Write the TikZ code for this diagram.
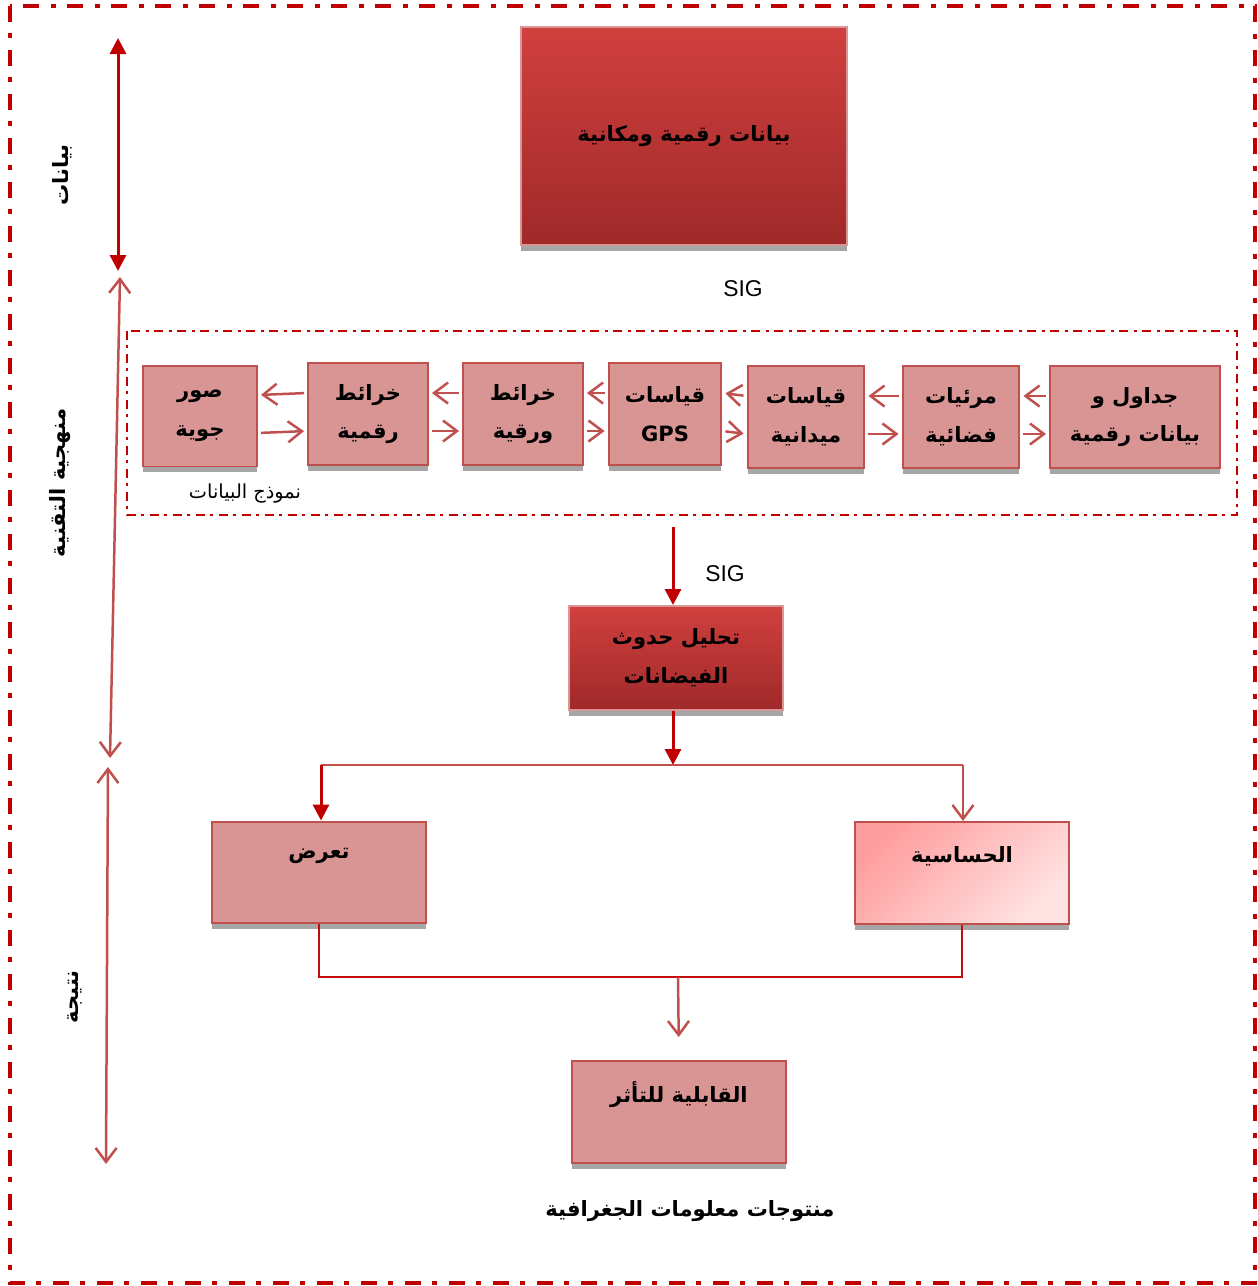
\documentclass[tikz,border=0pt]{standalone}
\usepackage{fontspec}
\setmainfont{Liberation Sans}
\newfontfamily\arabicfont[Script=Arabic]{DejaVu Sans}
\TeXXeTstate=1
\usetikzlibrary{arrows.meta,%
		shadows,%
		positioning}
\definecolor{rossoscuro}{HTML}{C00000}
\definecolor{rossochiaro}{HTML}{C0504D}
\definecolor{riempi}{HTML}{D99594}
\definecolor{ombra}{HTML}{A6A6A6}
\definecolor{altoA}{HTML}{D0403E}
\definecolor{bassoA}{HTML}{A0292A}
\definecolor{sensA}{HTML}{FF9E9E}
\definecolor{sensB}{HTML}{FFE2E2}
\newcommand{\artxt}[1]{\beginR #1\endR}

\begin{document}
\begin{tikzpicture}[x=0.02cm,y=-0.02cm,
  ombretta/.style={drop shadow={shadow xshift=0cm,shadow yshift=-0.12cm,fill=ombra,opacity=1}},
  scatola/.style={draw=rossochiaro,line width=0.04cm,fill=riempi,inner sep=0pt,align=center,ombretta,
    font=\arabicfont\bfseries\fontsize{12}{22}\selectfont},
  scatolarossa/.style={scatola,draw=rossochiaro!60,top color=altoA,bottom color=bassoA},
  testoar/.style={font=\arabicfont\bfseries\fontsize{12}{22}\selectfont,inner sep=0pt},
  etichetta/.style={font=\arabicfont\bfseries\fontsize{12}{14}\selectfont,rotate=90,inner sep=0pt},
  bordo/.style={draw=rossoscuro,line width=0.08cm,dash pattern=on 0.32cm off 0.22cm on 0.1cm off 0.24cm},
  cornice/.style={draw=rossoscuro,line width=0.05cm,dash pattern=on 0.18cm off 0.1cm on 0.06cm off 0.12cm},
  piena/.style={draw=rossoscuro,line width=0.06cm,-{Triangle[length=0.32cm,width=0.32cm]}},
  aperta/.style={draw=rossochiaro,line width=0.05cm,-{Straight Barb[length=0.28cm,width=0.42cm]}},
  linea/.style={draw=rossochiaro,line width=0.04cm}]

  \useasboundingbox (0,0) rectangle (1258,1286);%i margini
  \draw[bordo] (10,6) rectangle (1255,1283);%cornice esterna

  \coordinate (d1) at (118,38);%freccia dati, alto
  \coordinate (d2) at (118,271);%freccia dati, basso
  \coordinate (m1) at (120,277);%freccia metodo, alto
  \coordinate (m2) at (110,758);%freccia metodo, basso
  \coordinate (r1) at (108,767);%freccia risultato, alto
  \coordinate (r2) at (106,1164);%freccia risultato, basso
  \draw[piena,{Triangle[length=0.32cm,width=0.32cm]}-{Triangle[length=0.32cm,width=0.32cm]}] (d1) -- (d2);
  \draw[aperta,{Straight Barb[length=0.28cm,width=0.42cm]}-{Straight Barb[length=0.28cm,width=0.42cm]}] (m1) -- (m2);
  \draw[aperta,{Straight Barb[length=0.28cm,width=0.42cm]}-{Straight Barb[length=0.28cm,width=0.42cm]}] (r1) -- (r2);
  \node[etichetta] (lbdati) at (62,175) {\artxt{بيانات}};
  \node[etichetta] (lbmetodo) at (60,483) {\artxt{منهجية التقنية}};
  \node[etichetta] (lbrisult) at (75,997) {\artxt{نتيجة}};

  \node[scatolarossa,minimum width=6.52cm,minimum height=4.36cm] (dati) at (684,136) {\artxt{بيانات رقمية ومكانية}};
  \node[font=\fontsize{13}{15}\selectfont,inner sep=0pt] (sig1) at (743,289) {SIG};

  \draw[cornice] (127,331) rectangle (1237,515);%modello dei dati
  \node[scatola,minimum width=2.28cm,minimum height=2.02cm] (foto) at (200,416) {\artxt{صور}\\\artxt{جوية}};
  \node[scatola,minimum width=2.4cm,minimum height=2.04cm] (digit) at (368,414) {\artxt{خرائط}\\\artxt{رقمية}};
  \node[scatola,minimum width=2.4cm,minimum height=2.04cm] (carta) at (523,414) {\artxt{خرائط}\\\artxt{ورقية}};
  \node[scatola,minimum width=2.26cm,minimum height=2.04cm] (gps) at (665,414) {\artxt{قياسات}\\GPS};
  \node[scatola,minimum width=2.34cm,minimum height=2.04cm] (campo) at (806,417) {\artxt{قياسات}\\\artxt{ميدانية}};
  \node[scatola,minimum width=2.34cm,minimum height=2.04cm] (sat) at (961,417) {\artxt{مرئيات}\\\artxt{فضائية}};
  \node[scatola,minimum width=3.4cm,minimum height=2.04cm] (tab) at (1135,417) {\artxt{جداول و}\\\artxt{بيانات رقمية}};
  \foreach \a/\b in {foto/digit,digit/carta,carta/gps,gps/campo,campo/sat,sat/tab}
  {
    \draw[aperta,shorten <=0.06cm,shorten >=0.06cm] ([yshift=0.42cm]\b.west) -- ([yshift=0.42cm]\a.east);%verso sinistra
    \draw[aperta,shorten <=0.06cm,shorten >=0.06cm] ([yshift=-0.34cm]\a.east) -- ([yshift=-0.34cm]\b.west);%verso destra
  }
  \node[font=\arabicfont\fontsize{11}{13}\selectfont,inner sep=0pt] (modello) at (245,494) {\artxt{نموذج البيانات}};

  \coordinate (sigin) at (673,527);%inizio freccia SIG
  \node[font=\fontsize{13}{15}\selectfont,inner sep=0pt] (sig2) at (725,574) {SIG};
  \node[scatolarossa,minimum width=4.3cm,minimum height=2.08cm] (analisi) at (676,658) {\artxt{تحليل حدوث}\\\artxt{الفيضانات}};
  \draw[piena] (sigin) -- (analisi.north -| sigin);

  \node[scatola,minimum width=4.28cm,minimum height=2.02cm] (espo) at (319,872) {};
  \node[testoar] (tespo) at (319,856) {\artxt{تعرض}};
  \node[scatola,top color=sensA,bottom color=sensB,shading angle=45,minimum width=4.28cm,minimum height=2.04cm] (sens) at (962,873) {};
  \node[testoar] (tsens) at (962,856) {\artxt{الحساسية}};
  \node[scatola,minimum width=4.28cm,minimum height=2.04cm] (vuln) at (679,1112) {};
  \node[testoar] (tvuln) at (679,1095) {\artxt{القابلية للتأثر}};

  \coordinate (bivio) at (673,765);%punto di divisione
  \coordinate (bivsx) at (321,765);%ramo sinistro
  \coordinate (bivdx) at (963,765);%ramo destro
  \draw[piena] (analisi.south -| bivio) -- (bivio);
  \draw[linea] (bivsx) -- (bivdx);
  \draw[piena] (bivsx) -- (espo.north -| bivsx);
  \draw[aperta] (bivdx) -- (sens.north -| bivdx);

  \coordinate (unione) at (678,977);%giunzione in basso
  \draw[draw=rossoscuro!85!rossochiaro,line width=0.04cm] (espo.south) |- (unione) -| (sens.south);
  \draw[aperta,shorten >=0.46cm] (unione) -- (vuln.north);

  \node[font=\arabicfont\bfseries\fontsize{12}{14}\selectfont,inner sep=0pt] (prodotti) at (690,1211) {\artxt{منتوجات معلومات الجغرافية}};
\end{tikzpicture}
\end{document}
